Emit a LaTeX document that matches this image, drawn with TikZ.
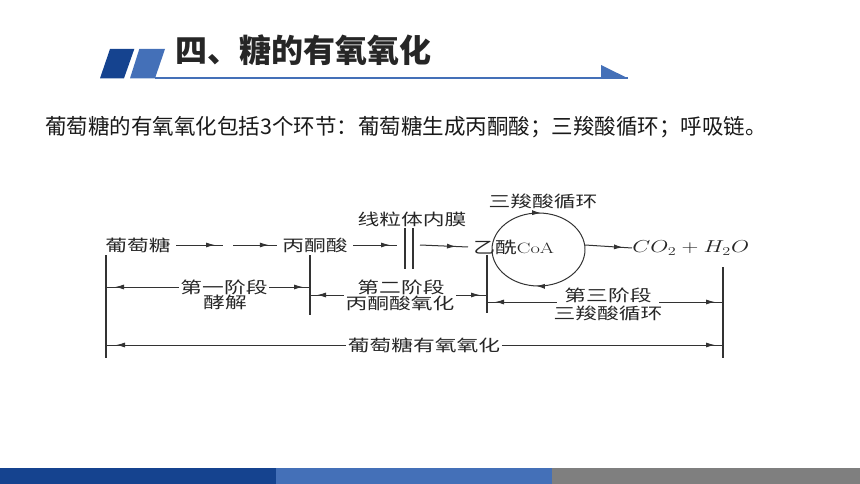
\documentclass[tikz,border=0pt]{standalone}
\usepackage{fontspec}
\newfontfamily\cjk{Noto Sans CJK SC}
\usetikzlibrary{arrows.meta,decorations.markings}
\definecolor{navy}{HTML}{15438F}
\definecolor{steel}{HTML}{4470B8}
\definecolor{slate}{HTML}{7F7F7F}
\definecolor{ink}{HTML}{262626}
\tikzset{
  lbl/.style={font=\cjk\fontsize{16}{16}\selectfont, xscale=1.36, transform shape, inner sep=1pt, text=black!85},
  ln/.style={black!80, line width=1pt},
  bar/.style={black!80, line width=1.3pt},
  dart/.style={postaction={decorate}, decoration={markings, mark=at position #1 with {\arrow{Latex[length=9pt,width=5pt]}}}},
  backdart/.style={postaction={decorate}, decoration={markings, mark=at position #1 with {\arrowreversed{Latex[length=9pt,width=5pt]}}}},
}
\begin{document}
\begin{tikzpicture}[x=1pt,y=-1pt]
    \pgfmathsetmacro{\ytop}{245}
    \pgfmathsetmacro{\xc}{538.5}
    \pgfmathsetmacro{\yc}{249.5}
    \pgfmathsetmacro{\rx}{46.5}
    \pgfmathsetmacro{\ry}{36.5}
    \useasboundingbox (0,0) rectangle (860,484);
    % header
    \fill[navy] (100,78.3) -- (110,49) -- (134.3,49) -- (124,78.3) -- cycle;
    \fill[steel] (130,78.3) -- (139.3,49) -- (165,49) -- (155,78.3) -- cycle;
    \draw[steel, line width=2pt] (155,78.3) -- (628,78.3);
    \fill[steel] (601,65) -- (628,78.3) -- (601,78.3) -- cycle;
    \node[anchor=west, inner sep=0pt, text=ink, font=\cjk\bfseries\fontsize{32}{32}\selectfont] (title) at (175,50) {四、糖的有氧氧化};
    \node[anchor=west, inner sep=0pt, text=black!90, font=\cjk\fontsize{21.5}{21.5}\selectfont] (intro) at (45,127) {葡萄糖的有氧氧化包括3个环节：葡萄糖生成丙酮酸；三羧酸循环；呼吸链。};
    % footer
    \fill[navy] (0,467.7) rectangle (276,484);
    \fill[steel] (276,467.7) rectangle (552,484);
    \fill[slate] (552,467.7) rectangle (860,484);
    % top row
    \node[lbl, outer sep=3pt] (glu) at (138,\ytop) {葡萄糖};
    \node[lbl, outer sep=3pt] (pyr) at (315,\ytop) {丙酮酸};
    \node[lbl] (memb) at (412,219) {线粒体内膜};
    \node[lbl, outer sep=3pt, anchor=west] (acoa) at (468,247) {乙酰{\rmfamily\fontsize{15}{15}\selectfont CoA}};
    \node[lbl] (tca) at (543,201) {三羧酸循环};
    \node[anchor=west, inner sep=0pt, xscale=1.35, transform shape, text=black!85, font=\fontsize{17.5}{17.5}\selectfont] (prod) at (632,248) {$CO_2+H_2O$};
    \coordinate (gapL) at (223,\ytop);
    \coordinate (gapR) at (233,\ytop);
    \coordinate (membL) at (405,228);
    \coordinate (membR) at (413,228);
    \coordinate (afterm) at (420,\ytop);
    \coordinate (ringE) at (585,\ytop);
    \draw[ln, dart=-8pt] (glu.east) -- (gapL);
    \draw[ln, dart=-8pt] (gapR) -- (pyr.west);
    \draw[ln, dart=-7pt] (pyr.east) -- (397,\ytop);
    \draw[bar] (membL) -- ++(0,41);
    \draw[bar] (membR) -- ++(0,41);
    \draw[ln, dart=-12pt] (afterm) -- (acoa.west);
    \draw[ln, dart=0.52] (\xc-\rx,\yc) arc[start angle=180, end angle=360, x radius=\rx, y radius=\ry];
    \draw[ln, dart=0.52] (\xc+\rx,\yc) arc[start angle=0, end angle=180, x radius=\rx, y radius=\ry];
    \draw[ln, dart=-9pt] (ringE) -- (prod.west);
    % stages
    \coordinate (b1t) at (106,255);
    \coordinate (b2t) at (310,255);
    \coordinate (b3t) at (487,255);
    \coordinate (b4t) at (723,267);
    \draw[bar] (b1t) -- (106,358);
    \draw[bar] (b2t) -- (310,315);
    \draw[bar] (b3t) -- (487,313);
    \draw[bar] (b4t) -- (723,358);
    \node[lbl] (s1) at (224,287) {第一阶段};
    \node[lbl] (s1sub) at (225,302) {酵解};
    \draw[ln, backdart=9pt] (b1t |- s1) -- (s1.west);
    \draw[ln, dart=-7pt] (s1.east) -- (b2t |- s1);
    \coordinate (r2) at (400,295);
    \node[lbl] (s2) at (401,287) {第二阶段};
    \node[lbl] (s2sub) at (400,303) {丙酮酸氧化};
    \draw[ln, backdart=7pt] (b2t |- r2) -- (s2sub.west |- r2);
    \draw[ln, dart=-7pt] (s2sub.east |- r2) -- (b3t |- r2);
    \coordinate (r3) at (608,302);
    \node[lbl] (s3) at (608,295.5) {第三阶段};
    \node[lbl] (s3sub) at (608,313) {三羧酸循环};
    \draw[ln, backdart=8pt] (b3t |- r3) -- ([xshift=-6pt]s3.west |- r3);
    \draw[ln, dart=-8pt] ([xshift=6pt]s3.east |- r3) -- (b4t |- r3);
    \node[lbl] (s4) at (424,345) {葡萄糖有氧氧化};
    \draw[ln, backdart=10pt] (b1t |- s4) -- (s4.west);
    \draw[ln, dart=-8pt] (s4.east) -- (b4t |- s4);
\end{tikzpicture}
\end{document}
